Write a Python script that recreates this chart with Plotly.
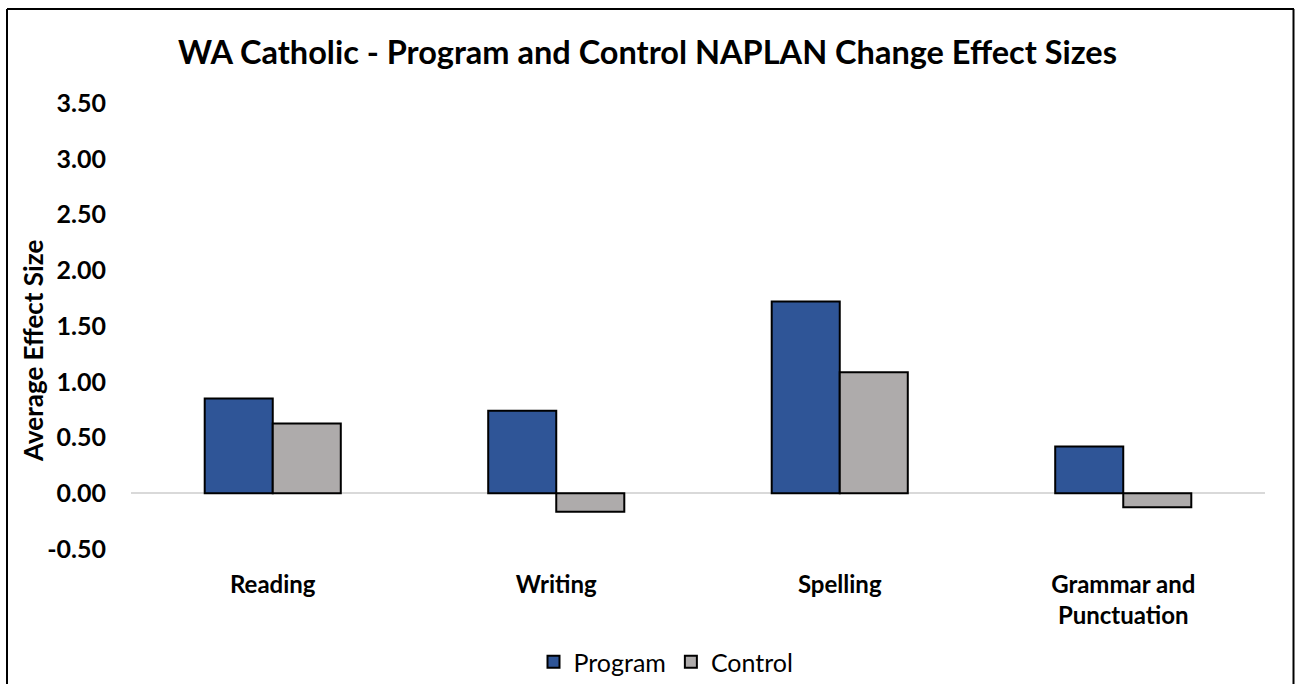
import plotly.graph_objects as go

categories = ["Reading", "Writing", "Spelling", "Grammar and<br>Punctuation"]
program = [0.85, 0.74, 1.72, 0.42]
control = [0.625, -0.165, 1.085, -0.125]
y_ticks = [-0.5, 0, 0.5, 1.0, 1.5, 2.0, 2.5, 3.0, 3.5]
y_tick_labels = ["-0.50", "0.00", "0.50", "1.00", "1.50", "2.00", "2.50", "3.00", "3.50"]

W, H = 1295, 684
L, R, T, B = 131, 30, 103, 135
FONT = "Lato"

fig = go.Figure()
fig.add_trace(go.Bar(name="Program", x=categories, y=program,
                     marker=dict(color="#2F5597", line=dict(color="black", width=2))))
fig.add_trace(go.Bar(name="Control", x=categories, y=control,
                     marker=dict(color="#AEABAB", line=dict(color="black", width=2))))

pw = W - L - R
ph = H - T - B
def px_x(p):
    return (p - L) / pw
def px_y(p):
    return (H - B - p) / ph

# outer frame (top, left, right)
frame = dict(type="line", xref="paper", yref="paper", line=dict(color="black", width=2), layer="above")
fig.add_shape(**frame, x0=px_x(7), x1=px_x(1294), y0=px_y(9), y1=px_y(9))
fig.add_shape(**frame, x0=px_x(7), x1=px_x(7), y0=px_y(9), y1=px_y(700))
fig.add_shape(**frame, x0=px_x(1293.5), x1=px_x(1293.5), y0=px_y(9), y1=px_y(700))

fig.add_annotation(text="Average Effect Size", textangle=-90, xref="paper", yref="paper",
                   x=px_x(33), y=px_y(351), xanchor="center", yanchor="middle", showarrow=False,
                   font=dict(family=FONT, size=26, color="black", weight="bold"))

fig.update_layout(
    width=W, height=H,
    margin=dict(l=L, r=R, t=T, b=B, pad=0, autoexpand=False),
    paper_bgcolor="white", plot_bgcolor="white",
    title=dict(text="WA Catholic - Program and Control NAPLAN Change Effect Sizes",
               x=0.5, xanchor="center", y=1 - 53 / H, yanchor="middle",
               font=dict(family=FONT, size=32.5, color="black", weight="bold")),
    barmode="group", bargap=0.52, bargroupgap=0,
    font=dict(family=FONT, color="black"),
    showlegend=True,
    legend=dict(orientation="h", x=px_x(666), xanchor="center", y=px_y(662), yanchor="middle",
                font=dict(family=FONT, size=25, color="black"), itemwidth=30,
                traceorder="normal"),
    xaxis=dict(showgrid=False, showline=False, ticks="", zeroline=False,
               tickfont=dict(family=FONT, size=24, color="black", weight="bold"),
               ticklabelstandoff=19),
    yaxis=dict(range=[-0.5, 3.5], tickvals=y_ticks, ticktext=y_tick_labels,
               showgrid=False, showline=False, ticks="",
               zeroline=True, zerolinecolor="#D9D9D9", zerolinewidth=1.5,
               tickfont=dict(family=FONT, size=25, color="black", weight="bold"),
               ticklabelstandoff=24),
)

fig.write_html("out.html", config={"displayModeBar": False},
               post_script="document.body.style.margin='0';document.body.style.overflow='hidden';")
